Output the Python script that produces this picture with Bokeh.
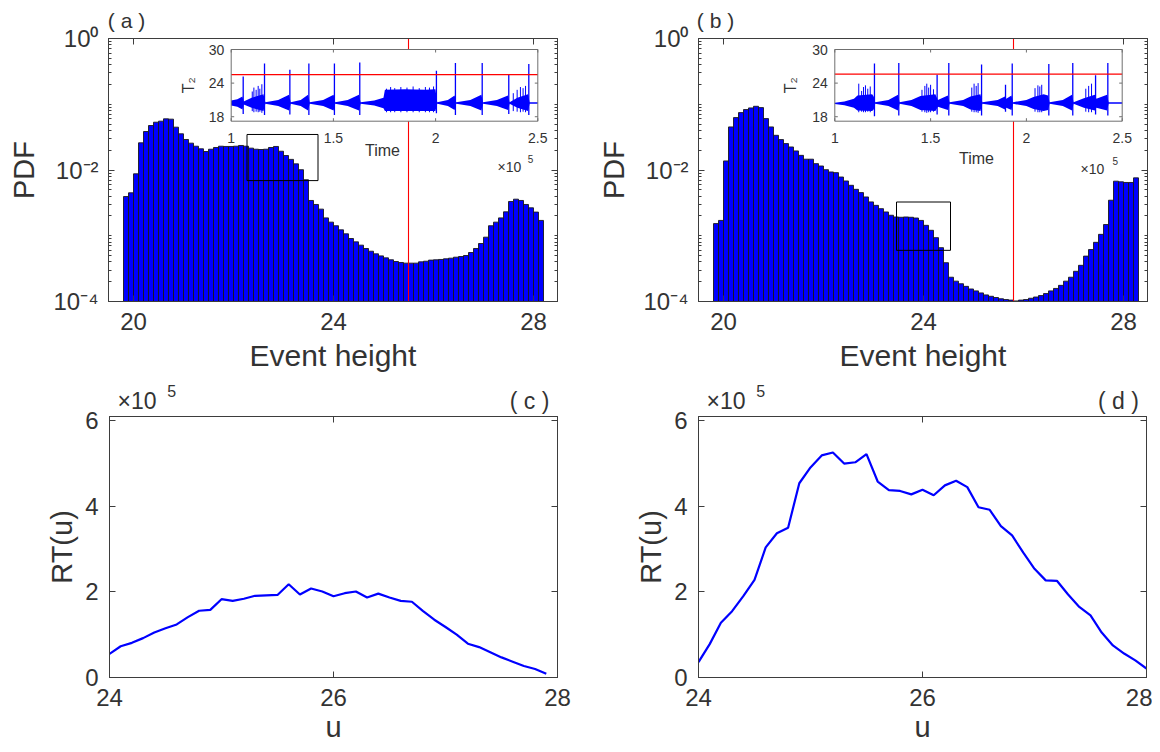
import math
from bokeh.plotting import figure
from bokeh.models import (Range1d, LinearAxis, LogAxis, FixedTicker,
                          LinearScale, ColumnDataSource, CustomJSTickFormatter)
from bokeh.layouts import column, row
from bokeh.embed import file_html
from bokeh.resources import INLINE
from bokeh.core.properties import value

# ---------------- data ----------------
bin_start = 19.8
bin_width = 0.1

pdf_a = [0.00395, 0.0045, 0.00875, 0.0259, 0.0385, 0.0475, 0.0533, 0.0553, 0.0600, 0.0593,
         0.0448, 0.0355, 0.0291, 0.0256, 0.0230, 0.0210, 0.0191, 0.0207, 0.0220, 0.0230,
         0.0228, 0.0228, 0.0230, 0.0236, 0.0230, 0.0215, 0.0207, 0.0205, 0.0207, 0.0220,
         0.0228, 0.0193, 0.0166, 0.0145, 0.0124, 0.0101, 0.0071, 0.00344, 0.00299, 0.00254,
         0.00187, 0.00161, 0.00142, 0.00123, 0.00107, 0.000908, 0.000807, 0.000719, 0.000640, 0.000582,
         0.000531, 0.000494, 0.000461, 0.000431, 0.000406, 0.000392, 0.000383, 0.000383, 0.000383, 0.000401,
         0.000410, 0.000426, 0.000431, 0.000436, 0.000446, 0.000456, 0.000472, 0.000483, 0.000501, 0.000556,
         0.000640, 0.000762, 0.000951, 0.00142, 0.00161, 0.00187, 0.00231, 0.00332, 0.00360, 0.00344,
         0.00299, 0.00266, 0.00229, 0.00171]

pdf_b = [0.00153, 0.00171, 0.01374, 0.0452, 0.0627, 0.0746, 0.0830, 0.0879, 0.0931, 0.0889,
         0.0605, 0.0452, 0.0337, 0.0290, 0.0252, 0.0224, 0.0195, 0.0167, 0.0146, 0.0146,
         0.0125, 0.0115, 0.0101, 0.00933, 0.00912, 0.00782, 0.00681, 0.00585, 0.00508, 0.00453,
         0.00389, 0.00327, 0.00290, 0.00258, 0.00230, 0.00205, 0.00193, 0.00191, 0.00193, 0.00191,
         0.00186, 0.00171, 0.00144, 0.00121, 0.000935, 0.000659, 0.000389, 0.000234, 0.000204, 0.000186,
         0.000170, 0.000155, 0.000145, 0.000135, 0.000126, 0.000120, 0.000115, 0.000110, 0.000107, 0.000105,
         0.000102, 0.000105, 0.000107, 0.000112, 0.000117, 0.000123, 0.000132, 0.000145, 0.000158, 0.000176,
         0.000204, 0.000234, 0.000288, 0.000355, 0.000490, 0.000617, 0.000794, 0.00105, 0.00148, 0.00347,
         0.00676, 0.00661, 0.00646, 0.00646, 0.00759]

threshold_a = 25.5
threshold_b = 25.8
zoom_box_a = [22.27, 23.69, 0.0069, 0.0347]     # left, right, bottom, top
zoom_box_b = [23.46, 24.54, 0.00060, 0.00326]

# inset time series (time in units of 1e5), envelope of the dense oscillation
env_a_t = [1.000, 1.030, 1.055, 1.061, 1.100, 1.158, 1.167, 1.230, 1.283, 1.291,
           1.340, 1.376, 1.384, 1.450, 1.501, 1.509, 1.570, 1.625, 1.633, 1.700,
           1.745, 1.752, 1.850, 1.950, 1.999, 2.008, 2.060, 2.093, 2.101, 2.170,
           2.224, 2.232, 2.300, 2.354, 2.362, 2.400, 2.452, 2.460, 2.500]
env_a_hi = [20.9, 21.1, 21.6, 20.7, 21.4, 22.0, 20.6, 21.0, 21.9, 20.6,
            21.0, 21.9, 20.6, 21.0, 21.9, 20.6, 21.0, 21.9, 20.6, 20.9,
            21.4, 22.8, 22.9, 22.8, 22.9, 20.6, 21.0, 21.8, 20.6, 21.0,
            21.9, 20.6, 21.0, 21.8, 20.6, 21.4, 22.0, 20.6, 20.6]
env_a_lo = [20.0, 19.8, 19.3, 20.2, 19.6, 19.0, 20.3, 19.9, 19.1, 20.3,
            19.9, 19.1, 20.3, 19.9, 19.1, 20.3, 19.9, 19.1, 20.3, 20.0,
            19.5, 19.0, 19.0, 19.0, 19.0, 20.3, 19.9, 19.2, 20.3, 19.9,
            19.1, 20.3, 19.9, 19.2, 20.3, 19.6, 19.0, 20.3, 20.3]
spike_a_t = [1.0587, 1.163, 1.287, 1.380, 1.505, 1.629, 2.004, 2.097, 2.228, 2.358, 2.456]
spike_a_hi = [25.2, 27.5, 26.4, 27.5, 27.5, 27.7, 26.2, 27.6, 27.6, 25.6, 27.4]
spike_a_lo = [18.5, 18.3, 18.4, 18.3, 18.3, 18.3, 18.6, 18.3, 18.3, 18.5, 18.3]
burst_a_t = [1.103, 1.111, 1.122, 1.132, 1.140, 1.150,
             1.760, 1.780, 1.800, 1.830, 1.860, 1.890, 1.920, 1.950, 1.970, 1.990,
             2.380, 2.399, 2.415, 2.428, 2.440]
burst_a_hi = [22.5, 23.2, 22.8, 23.5, 23.0, 23.8,
              23.0, 23.3, 23.1, 23.3, 23.2, 23.4, 23.1, 23.3, 23.2, 23.4,
              22.2, 22.8, 23.3, 23.1, 23.5]
burst_a_lo = [19.0, 18.8, 18.9, 18.8, 18.9, 18.7,
              18.8, 18.8, 18.8, 18.8, 18.8, 18.8, 18.8, 18.8, 18.8, 18.8,
              19.0, 18.9, 18.8, 18.9, 18.8]

env_b_t = [1.000, 1.050, 1.100, 1.118, 1.195, 1.203, 1.211, 1.280, 1.330, 1.338,
           1.400, 1.447, 1.525, 1.531, 1.538, 1.590, 1.599, 1.670, 1.708, 1.760,
           1.770, 1.850, 1.888, 1.895, 1.922, 1.930, 2.000, 2.037, 2.090, 2.113,
           2.121, 2.190, 2.238, 2.246, 2.300, 2.357, 2.365, 2.421, 2.429, 2.500]
env_b_hi = [20.5, 20.7, 21.2, 21.8, 22.0, 21.6, 20.6, 21.0, 21.9, 20.6,
            21.0, 21.7, 22.0, 21.5, 21.0, 21.8, 20.6, 21.0, 21.6, 22.0,
            20.6, 21.0, 21.6, 21.2, 21.8, 20.6, 21.0, 21.5, 22.0, 21.8,
            20.6, 21.0, 21.9, 20.6, 21.3, 21.9, 21.2, 21.9, 20.6, 20.6]
env_b_lo = [20.25, 20.05, 19.6, 19.1, 19.0, 19.3, 20.3, 19.9, 19.1, 20.3,
            19.9, 19.2, 19.0, 19.4, 19.8, 19.2, 20.3, 19.9, 19.3, 19.0,
            20.3, 19.9, 19.3, 19.6, 19.2, 20.3, 19.9, 19.4, 19.0, 19.2,
            20.3, 19.9, 19.1, 20.3, 19.6, 19.1, 19.6, 19.1, 20.3, 20.3]
spike_b_t = [1.207, 1.334, 1.534, 1.595, 1.766, 1.891, 1.926, 2.117, 2.242, 2.361, 2.425]
spike_b_hi = [27.5, 27.6, 25.5, 27.6, 27.3, 23.7, 27.5, 27.4, 27.6, 25.4, 27.6]
spike_b_lo = [18.1, 18.2, 18.4, 18.2, 18.2, 18.9, 18.2, 18.2, 18.2, 18.4, 18.2]
burst_b_t = [1.125, 1.140, 1.150, 1.160, 1.172, 1.185,
             1.455, 1.470, 1.480, 1.490, 1.500, 1.515,
             1.715, 1.727, 1.738, 1.748,
             2.045, 2.060, 2.070, 2.080,
             2.310, 2.325, 2.340]
burst_b_hi = [23.9, 22.6, 23.3, 23.6, 23.0, 23.4,
              22.8, 23.5, 23.9, 23.2, 23.7, 22.9,
              23.2, 23.9, 23.5, 24.0,
              23.1, 23.6, 23.4, 23.7,
              23.0, 23.5, 23.9]
burst_b_lo = [18.8, 18.9, 18.8, 18.8, 18.9, 18.8,
              18.9, 18.8, 18.7, 18.8, 18.8, 18.9,
              18.9, 18.8, 18.8, 18.7,
              18.9, 18.8, 18.8, 18.8,
              18.9, 18.8, 18.8]
inset_threshold_a = 25.5
inset_threshold_b = 25.6

u_c = [24.0, 24.1, 24.2, 24.3, 24.4, 24.5, 24.6, 24.7, 24.8, 24.9,
       25.0, 25.1, 25.2, 25.3, 25.4, 25.5, 25.6, 25.7, 25.8, 25.9,
       26.0, 26.1, 26.2, 26.3, 26.4, 26.5, 26.6, 26.7, 26.8, 26.9,
       27.0, 27.1, 27.2, 27.3, 27.4, 27.5, 27.6, 27.7, 27.8, 27.9]
rt_c = [0.55, 0.73, 0.81, 0.92, 1.05, 1.15, 1.24, 1.41, 1.56, 1.58,
        1.83, 1.79, 1.84, 1.91, 1.92, 1.93, 2.18, 1.94, 2.08, 2.01,
        1.90, 1.97, 2.01, 1.87, 1.96, 1.87, 1.79, 1.77, 1.55, 1.35,
        1.18, 1.00, 0.79, 0.71, 0.59, 0.47, 0.37, 0.27, 0.20, 0.09]   # x 1e5
u_d = [24.0, 24.1, 24.2, 24.3, 24.4, 24.5, 24.6, 24.7, 24.8, 24.9,
       25.0, 25.1, 25.2, 25.3, 25.4, 25.5, 25.6, 25.7, 25.8, 25.9,
       26.0, 26.1, 26.2, 26.3, 26.4, 26.5, 26.6, 26.7, 26.8, 26.9,
       27.0, 27.1, 27.2, 27.3, 27.4, 27.5, 27.6, 27.7, 27.8, 27.9, 28.0]
rt_d = [0.36, 0.78, 1.28, 1.55, 1.90, 2.28, 3.04, 3.37, 3.50, 4.54,
        4.91, 5.19, 5.26, 5.00, 5.03, 5.22, 4.58, 4.38, 4.36, 4.28,
        4.39, 4.26, 4.49, 4.60, 4.45, 3.98, 3.92, 3.54, 3.32, 2.92,
        2.54, 2.27, 2.26, 1.94, 1.65, 1.45, 1.05, 0.75, 0.56, 0.40, 0.21]  # x 1e5

pdf_ticks = [0.0001, 0.01, 1]
pdf_tick_labels = {0.0001: "10⁻⁴", 0.01: "10⁻²", 1: "10⁰"}
height_ticks = [20, 24, 28]
u_ticks = [24, 26, 28]
rt_ticks = [0, 2, 4, 6]
inset_time_ticks = [1, 1.5, 2, 2.5]
inset_time_labels = ["1", "1.5", "2", "2.5"]
inset_T2_ticks = [18, 24, 30]
inset_T2_labels = ["18", "24", "30"]

# ---------------- style ----------------
FONT = "Liberation Sans"
TXT = "#333333"
AXC = "#3d3d3d"
INC = "#6f6f6f"
BLUE = "#0000ff"
RED = "#ff0000"

FW, FH = 449, 263          # histogram frames
T0, T1, Y0, Y1 = 1.0, 2.5, 17.2, 30.0

log_minor = [m * 10.0 ** k for k in range(-4, 0) for m in range(2, 10)] + [0.1, 0.001]


def style_ax(ax, show=True, standoff=11, tick_in=6, minor_in=3):
    ax.axis_line_color = AXC
    ax.axis_line_width = 1
    ax.major_tick_line_color = AXC
    ax.minor_tick_line_color = AXC
    ax.major_tick_in = tick_in
    ax.major_tick_out = 0
    ax.minor_tick_in = minor_in
    ax.minor_tick_out = 0
    ax.major_label_text_font = FONT
    ax.major_label_text_color = TXT
    ax.axis_label_text_font = FONT
    ax.axis_label_text_font_style = "normal"
    ax.axis_label_text_color = TXT
    if show:
        ax.major_label_text_font_size = "24px"
        ax.major_label_standoff = standoff
    else:
        ax.formatter = CustomJSTickFormatter(code="return ''")
        ax.major_label_text_font_size = "2px"
        ax.major_label_standoff = 0


def make_fig(fw, fh, bl, br, bt, bb, xr, yr, log):
    p = figure(frame_width=fw, frame_height=fh, x_range=xr, y_range=yr,
               y_axis_type=("log" if log else "linear"),
               output_backend="svg", toolbar_location=None,
               min_border_left=bl, min_border_right=br,
               min_border_top=bt, min_border_bottom=bb)
    p.grid.visible = False
    p.outline_line_color = AXC
    p.background_fill_color = "white"
    p.border_fill_color = "white"
    return p


def setup_axes(p, xticks, yticks, log, xlabel, ylabel, ylabels=None, xstand=11, ystand=10,
               xl_size="30px", xl_stand=6, yl_size="29px", yl_stand=10):
    xa = p.xaxis[0]
    xa.ticker = FixedTicker(ticks=xticks)
    style_ax(xa, standoff=xstand)
    xa.axis_label = xlabel
    xa.axis_label_text_font_size = xl_size
    xa.axis_label_standoff = xl_stand
    ya = p.yaxis[0]
    if log:
        ya.ticker = FixedTicker(ticks=yticks, minor_ticks=log_minor)
    else:
        ya.ticker = FixedTicker(ticks=yticks)
    style_ax(ya, standoff=ystand)
    ya.axis_label = ylabel
    ya.axis_label_text_font_size = yl_size
    ya.axis_label_standoff = yl_stand
    if ylabels:
        ya.major_label_overrides = ylabels
    top = LinearAxis(ticker=FixedTicker(ticks=xticks))
    style_ax(top, show=False)
    p.add_layout(top, "above")
    if log:
        right = LogAxis(ticker=FixedTicker(ticks=yticks, minor_ticks=log_minor))
    else:
        right = LinearAxis(ticker=FixedTicker(ticks=yticks))
    style_ax(right, show=False)
    p.add_layout(right, "right")


def add_text_axis(p, labels, size, standoff):
    # an axis without line or ticks that only carries texts above the frame
    ax = LinearAxis(ticker=FixedTicker(ticks=list(labels.keys())),
                    major_label_overrides=labels)
    ax.axis_line_color = None
    ax.major_tick_line_color = None
    ax.minor_tick_line_color = None
    ax.major_tick_in = 0
    ax.major_tick_out = 0
    ax.minor_tick_in = 0
    ax.minor_tick_out = 0
    ax.major_label_text_font = FONT
    ax.major_label_text_font_size = size
    ax.major_label_text_color = TXT
    ax.major_label_standoff = standoff
    p.add_layout(ax, "above")


def draw_inset(p, geom, env, spikes, bursts, thr, tlab_dx, time_dy, x10_dx, x10_dy, e_dx, e_dy):
    left, right, top, bottom = geom
    ppx = (right - left) / (T1 - T0)
    ppy = (bottom - top) / (Y1 - Y0)
    p.extra_x_ranges = {"ix": Range1d(T0 - left / ppx, T1 + (FW - right) / ppx)}
    p.extra_y_ranges = {"iy": Range1d(Y0 - (FH - bottom) / ppy, Y1 + top / ppy)}
    p.extra_x_scales = {"ix": LinearScale()}
    p.extra_y_scales = {"iy": LinearScale()}
    kw = dict(x_range_name="ix", y_range_name="iy")
    p.quad(left=[T0], right=[T1], bottom=[Y0], top=[Y1], fill_color="white",
           line_color=None, **kw)
    et, ehi, elo = env
    p.varea(x=et, y1=elo, y2=ehi, fill_color=BLUE, **kw)
    st, shi, slo = spikes
    p.segment(x0=st, y0=slo, x1=st, y1=shi, line_color=BLUE, line_width=1.3, **kw)
    bt_, bhi, blo = bursts
    p.segment(x0=bt_, y0=blo, x1=bt_, y1=bhi, line_color=BLUE, line_width=1.0, **kw)
    p.line([T0, T1], [thr, thr], line_color=RED, line_width=1.2, **kw)
    p.quad(left=[T0], right=[T1], bottom=[Y0], top=[Y1], fill_color=None,
           line_color=INC, line_width=1, **kw)
    lx = 3.0 / ppy
    ly = 3.0 / ppx
    n = len(inset_time_ticks)
    m = len(inset_T2_ticks)
    p.segment(x0=inset_time_ticks, y0=[Y0] * n, x1=inset_time_ticks, y1=[Y0 + lx] * n,
              line_color=INC, **kw)
    p.segment(x0=inset_time_ticks, y0=[Y1] * n, x1=inset_time_ticks, y1=[Y1 - lx] * n,
              line_color=INC, **kw)
    p.segment(x0=[T0] * m, y0=inset_T2_ticks, x1=[T0 + ly] * m, y1=inset_T2_ticks,
              line_color=INC, **kw)
    p.segment(x0=[T1] * m, y0=inset_T2_ticks, x1=[T1 - ly] * m, y1=inset_T2_ticks,
              line_color=INC, **kw)
    tk = dict(text_font=value(FONT), text_color=TXT, **kw)
    p.text(x=inset_time_ticks, y=[Y0] * n, text=inset_time_labels, text_font_size="14px",
           text_align="center", text_baseline="middle", y_offset=16.5, **tk)
    p.text(x=[T0] * m, y=inset_T2_ticks, text=inset_T2_labels, text_font_size="14px",
           text_align="right", text_baseline="middle", x_offset=-7, **tk)
    p.text(x=[T0], y=[(Y0 + Y1) / 2], text=["T₂"], text_font_size="16px",
           text_align="center", text_baseline="middle", angle=math.pi / 2,
           x_offset=tlab_dx, **tk)
    p.text(x=[(T0 + T1) / 2], y=[Y0], text=["Time"], text_font_size="16px",
           text_align="center", text_baseline="middle", x_offset=-2, y_offset=time_dy, **tk)
    p.text(x=[T1], y=[Y0], text=["×10"], text_font_size="14px",
           text_align="left", text_baseline="alphabetic", x_offset=x10_dx, y_offset=x10_dy, **tk)
    p.text(x=[T1], y=[Y0], text=["5"], text_font_size="10px",
           text_align="left", text_baseline="alphabetic", x_offset=e_dx, y_offset=e_dy, **tk)


def hist_panel(pdf, thr, box, bl, br, letter_x, letter, inset_geom, env, spikes, bursts,
               ithr, tlab_dx, time_dy, x10_dx, x10_dy, e_dx, e_dy):
    p = make_fig(FW, FH, bl, br, 38, 78, Range1d(19.5, 28.48), Range1d(1e-4, 1), True)
    setup_axes(p, height_ticks, pdf_ticks, True, "Event height", "PDF", pdf_tick_labels,
               xstand=11, ystand=10, xl_size="30px", xl_stand=6, yl_size="29px", yl_stand=10)
    add_text_axis(p, {letter_x: letter}, "21px", 7)
    n = len(pdf)
    lefts = [bin_start + i * bin_width for i in range(n)]
    rights = [bin_start + (i + 1) * bin_width for i in range(n)]
    src = ColumnDataSource(dict(left=lefts, right=rights, top=pdf, bottom=[1e-6] * n))
    p.quad(left="left", right="right", top="top", bottom="bottom", source=src,
           fill_color=BLUE, line_color="#1a1a1a", line_width=0.9)
    p.line([thr, thr], [1e-6, 10], line_color=RED, line_width=1.1)
    p.quad(left=[box[0]], right=[box[1]], bottom=[box[2]], top=[box[3]],
           fill_color=None, line_color="black", line_width=1)
    draw_inset(p, inset_geom, env, spikes, bursts, ithr, tlab_dx, time_dy, x10_dx, x10_dy, e_dx, e_dy)
    return p


def rt_panel(u, rt, bl, br, letter):
    p = make_fig(448, 261, bl, br, 37, 73, Range1d(24, 28), Range1d(0, 6.1), False)
    setup_axes(p, u_ticks, rt_ticks, False, "u", "RT(u)", xstand=11, ystand=11,
               xl_size="29px", xl_stand=2, yl_size="29px", yl_stand=4)
    add_text_axis(p, {24.246: "×10", 27.75: letter}, "23px", 3)
    add_text_axis(p, {24.555: "5"}, "16px", -12)
    p.line(u, rt, line_color=BLUE, line_width=2.2)
    return p


pa = hist_panel(pdf_a, threshold_a, zoom_box_a, 108, 38, 19.86, "( a )",
                (122.7, 429.3, 11.0, 82.7),
                (env_a_t, env_a_hi, env_a_lo), (spike_a_t, spike_a_hi, spike_a_lo),
                (burst_a_t, burst_a_hi, burst_a_lo), inset_threshold_a,
                -43, 29.3, -40.3, 46, -10, 37.3)
pb = hist_panel(pdf_b, threshold_b, zoom_box_b, 103, 5, 19.84, "( b )",
                (136.3, 423.7, 11.0, 82.7),
                (env_b_t, env_b_hi, env_b_lo), (spike_b_t, spike_b_hi, spike_b_lo),
                (burst_b_t, burst_b_hi, burst_b_lo), inset_threshold_b,
                -44, 37.3, -41.7, 47.3, -9.7, 39.3)
pc = rt_panel(u_c, rt_c, 109, 38, "( c )")
pd = rt_panel(u_d, rt_d, 103, 6, "( d )")

layout = column(row(pa, pb), row(pc, pd))
open("out.html", "w").write(file_html(layout, INLINE, title="PDF and RT(u)"))
